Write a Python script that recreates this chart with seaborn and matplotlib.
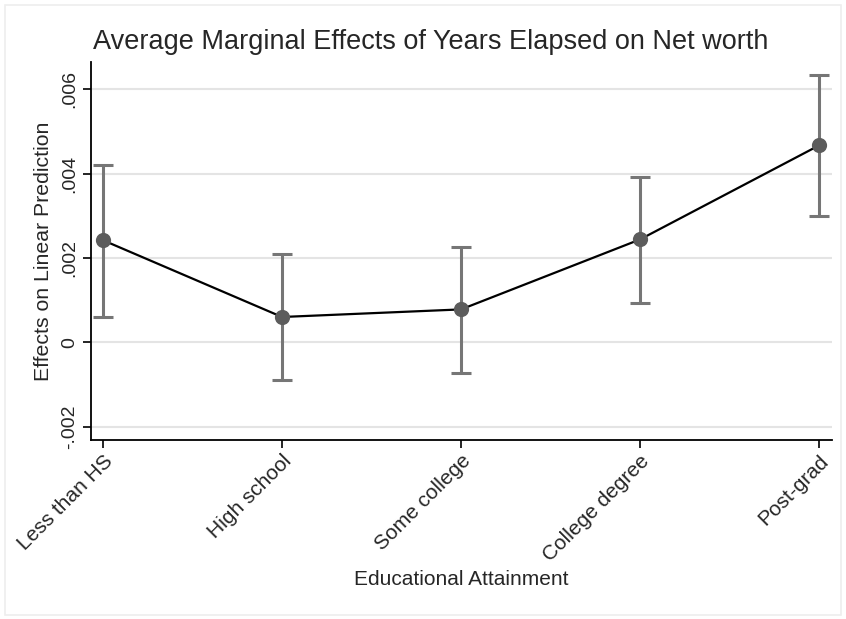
import pandas as pd
import matplotlib.pyplot as plt
import matplotlib.patches as mpatches
import seaborn as sns

# 数据
categories = ['Less than HS', 'High school', 'Some college', 'College degree', 'Post-grad']
effects = [0.00242, 0.00060, 0.00078, 0.00244, 0.00467]
ci_low = [0.00060, -0.00090, -0.00072, 0.00093, 0.00300]
ci_high = [0.00420, 0.00209, 0.00226, 0.00391, 0.00634]
ytick_vals = [-0.002, 0, 0.002, 0.004, 0.006]
ytick_labels = ['-.002', '0', '.002', '.004', '.006']

df = pd.DataFrame({'edu': categories, 'effect': effects,
                   'low': ci_low, 'high': ci_high})
df['pos'] = range(len(df))

sns.set_style("white")
plt.rcParams['font.family'] = ['Liberation Sans', 'DejaVu Sans']

fig = plt.figure(figsize=(8.46, 6.19), dpi=100)
ax = fig.add_axes([0.1076, 0.289, 0.8754, 0.611])

# 外框
fig.patches.append(mpatches.Rectangle((0.006, 0.006), 0.988, 0.986, transform=fig.transFigure,
                                      fill=False, edgecolor='#eeeeee', linewidth=1.2))

for y in ytick_vals:
    ax.axhline(y, color='#e4e4e4', linewidth=1.5, zorder=0)

# 置信区间
ax.errorbar(df['pos'], df['effect'],
            yerr=[df['effect'] - df['low'], df['high'] - df['effect']],
            fmt='none', ecolor='#767676', elinewidth=2.2, capsize=7, capthick=2.2, zorder=2)

sns.lineplot(data=df, x='pos', y='effect', color='black', linewidth=1.6, sort=False, ax=ax, zorder=3)
sns.scatterplot(data=df, x='pos', y='effect', color='#5c5c5c', s=120, edgecolor='#5c5c5c',
                linewidth=0, ax=ax, zorder=4)

ax.set_xlim(-0.067, 4.07)
ax.set_ylim(-0.00232, 0.00665)
ax.set_xticks(df['pos'])
ax.set_xticklabels(categories, rotation=45, ha='right', rotation_mode='anchor', fontsize=15)
ax.set_yticks(ytick_vals)
ax.set_yticklabels(ytick_labels, rotation=90, va='center', fontsize=14)

ax.tick_params(axis='both', direction='out', length=6, width=1.2, color='black', bottom=True, left=True)
ax.tick_params(axis='x', pad=2)
for s in ['top', 'right']:
    ax.spines[s].set_visible(False)
for s in ['left', 'bottom']:
    ax.spines[s].set_color('black')
    ax.spines[s].set_linewidth(1.3)

ax.set_xlabel('Educational Attainment', fontsize=15, labelpad=4)
ax.set_ylabel('Effects on Linear Prediction', fontsize=15.3, labelpad=6)
ax.set_title('Average Marginal Effects of Years Elapsed on Net worth', fontsize=19.5,
             loc='left', x=0.003, pad=9)

fig.savefig('out.png', dpi=100, facecolor='white')
